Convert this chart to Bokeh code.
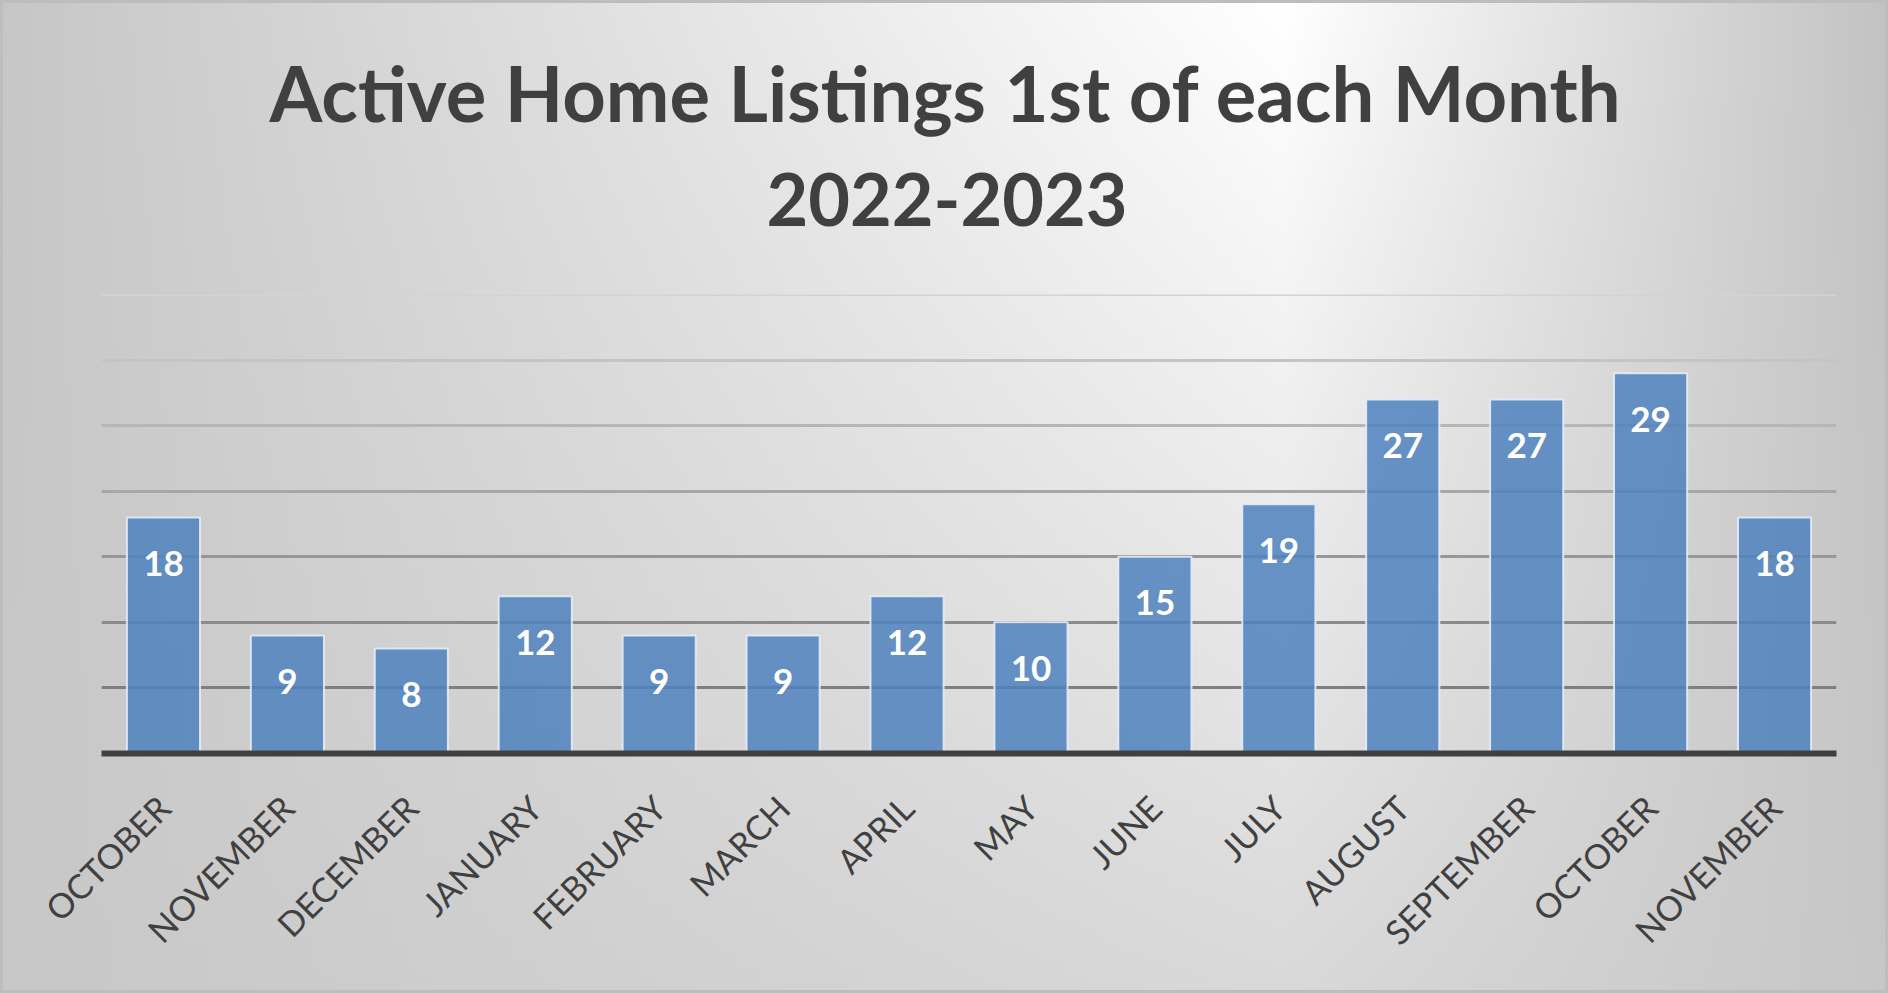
import numpy as np
from bokeh.plotting import figure
from bokeh.models import ColumnDataSource, LabelSet, Title, FixedTicker, Range1d
from bokeh.core.properties import value
from bokeh.embed import file_html
from bokeh.resources import INLINE

# ---- data ----
months = ["OCTOBER", "NOVEMBER", "DECEMBER", "JANUARY", "FEBRUARY", "MARCH", "APRIL",
          "MAY", "JUNE", "JULY", "AUGUST", "SEPTEMBER", "OCTOBER", "NOVEMBER"]
listings = [18, 9, 8, 12, 9, 9, 12, 10, 15, 19, 27, 27, 29, 18]
grid_values = [5, 10, 15, 20, 25, 30, 35]
title_line1 = "Active Home Listings 1st of each Month"
title_line2 = "2022-2023"

# ---- styling ----
FONT = "Lato"
TEXT = "#404040"
grid_colors = ["#7f7f7f", "#8b8b8b", "#979797", "#a7a7a7", "#b6b6b6", "#c4c4c4", "#d3d3d3"]

xs = list(range(len(months)))
src = ColumnDataSource(dict(x=xs, y=listings, label=[str(v) for v in listings]))

p = figure(width=1888, height=993, output_backend="svg", toolbar_location=None,
           x_range=Range1d(-0.5, len(months) - 0.5), y_range=Range1d(0, 35),
           min_border_left=101, min_border_right=52, min_border_top=294,
           min_border_bottom=240, title=None)

p.styles = {
    "background": ("linear-gradient(to bottom, rgba(200,200,200,0) 0%, rgba(200,200,200,0.7) 100%), "
                   "linear-gradient(to right, #c6c6c6 0%, #ffffff 68%, #c2c2c2 100%)"),
    "box-shadow": "inset 0 0 0 3px #bdbdbd",
}
p.border_fill_alpha = 0
p.background_fill_alpha = 0
p.outline_line_color = None
p.xgrid.visible = False
p.ygrid.visible = False
p.yaxis.visible = False

p.hspan(y=grid_values, line_color=grid_colors, line_width=3)

p.vbar(x="x", top="y", width=0.59, source=src, fill_color="#4f81bd", fill_alpha=0.85,
       line_color="#e4ecf6", line_width=2, line_alpha=0.9)

labels = LabelSet(x="x", y="y", text="label", source=src, text_align="center",
                  text_baseline="middle", y_offset=-46, text_color="white",
                  text_font=value(FONT), text_font_style="bold", text_font_size="35px")
p.add_layout(labels)

ax = p.xaxis[0]
ax.ticker = FixedTicker(ticks=xs)
ax.major_label_overrides = {i: m for i, m in enumerate(months)}
ax.major_label_orientation = np.pi / 4
ax.major_tick_line_color = None
ax.minor_tick_line_color = None
ax.axis_line_color = TEXT
ax.axis_line_width = 6
ax.major_label_text_font = FONT
ax.major_label_text_font_size = "34px"
ax.major_label_text_color = TEXT
ax.major_label_standoff = 42

t2 = Title(text=title_line2, align="left", offset=665, text_font=FONT, text_font_style="bold",
           text_font_size="72px", text_color=TEXT, standoff=138)
t1 = Title(text=title_line1, align="left", offset=168, text_font=FONT, text_font_style="bold",
           text_font_size="76px", text_color=TEXT, standoff=-72)
p.add_layout(t2, "above")
p.add_layout(t1, "above")

open("out.html", "w").write(file_html(p, INLINE))
